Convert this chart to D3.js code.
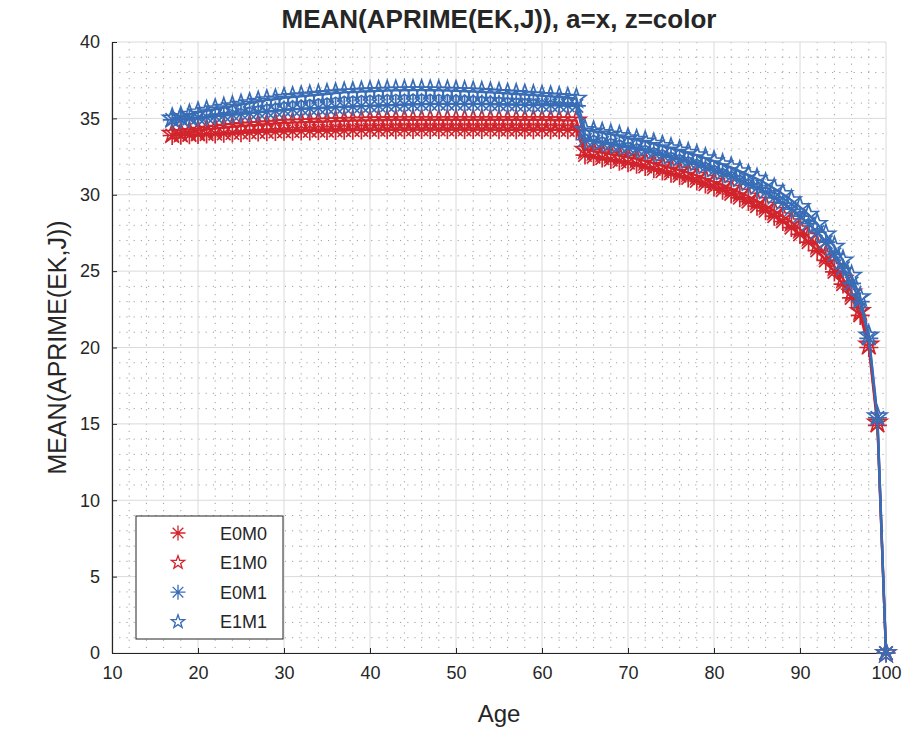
<!DOCTYPE html>
<html>
<head>
<meta charset="utf-8">
<script src="https://cdn.jsdelivr.net/npm/d3@7/dist/d3.min.js"></script>
<style>
  html, body { margin: 0; padding: 0; background: #ffffff; }
  svg { display: block; }
  text { font-family: "Liberation Sans", Arial, Helvetica, sans-serif; fill: #262626; }
</style>
</head>
<body>
<svg id="chart" width="907" height="733"></svg>
<script>
// Ages on the x axis
const ages = [
  17, 18, 19, 20, 21, 22, 23, 24, 25, 26,
  27, 28, 29, 30, 31, 32, 33, 34, 35, 36,
  37, 38, 39, 40, 41, 42, 43, 44, 45, 46,
  47, 48, 49, 50, 51, 52, 53, 54, 55, 56,
  57, 58, 59, 60, 61, 62, 63, 64, 65, 66,
  67, 68, 69, 70, 71, 72, 73, 74, 75, 76,
  77, 78, 79, 80, 81, 82, 83, 84, 85, 86,
  87, 88, 89, 90, 91, 92, 93, 94, 95, 96,
  97, 98, 99, 100
];

// Mean next-period assets by age, one array per education/marital group
const e0m0 = [
  33.88, 33.90, 33.92, 33.95, 33.97, 34.00, 34.02, 34.04, 34.06, 34.08,
  34.10, 34.12, 34.14, 34.15, 34.16, 34.17, 34.18, 34.19, 34.20, 34.21,
  34.22, 34.23, 34.24, 34.25, 34.25, 34.26, 34.26, 34.27, 34.27, 34.27,
  34.27, 34.27, 34.27, 34.27, 34.27, 34.27, 34.27, 34.27, 34.26, 34.26,
  34.26, 34.26, 34.26, 34.26, 34.25, 34.25, 34.25, 34.25, 32.60, 32.50,
  32.40, 32.30, 32.20, 32.10, 32.00, 31.85, 31.70, 31.55, 31.40, 31.25,
  31.10, 30.90, 30.70, 30.50, 30.30, 30.05, 29.80, 29.55, 29.25, 28.95,
  28.60, 28.25, 27.85, 27.40, 26.90, 26.35, 25.70, 24.95, 24.15, 23.25,
  22.10, 20.00, 14.90, 0.00
];
const e1m0 = [
  34.00, 34.05, 34.12, 34.20, 34.27, 34.33, 34.39, 34.44, 34.50, 34.54,
  34.58, 34.62, 34.66, 34.70, 34.72, 34.74, 34.76, 34.78, 34.80, 34.82,
  34.84, 34.85, 34.86, 34.87, 34.88, 34.89, 34.90, 34.90, 34.90, 34.90,
  34.90, 34.90, 34.90, 34.90, 34.90, 34.90, 34.90, 34.90, 34.90, 34.90,
  34.90, 34.90, 34.90, 34.90, 34.89, 34.88, 34.87, 34.86, 32.95, 32.85,
  32.75, 32.65, 32.55, 32.45, 32.35, 32.20, 32.05, 31.90, 31.75, 31.60,
  31.45, 31.25, 31.05, 30.85, 30.65, 30.40, 30.15, 29.90, 29.60, 29.30,
  28.95, 28.60, 28.20, 27.75, 27.25, 26.70, 26.05, 25.30, 24.50, 23.60,
  22.40, 20.20, 15.10, 0.00
];
const e0m1 = [
  34.90, 34.95, 35.00, 35.05, 35.10, 35.15, 35.20, 35.25, 35.30, 35.35,
  35.40, 35.45, 35.50, 35.55, 35.60, 35.62, 35.65, 35.68, 35.70, 35.73,
  35.76, 35.78, 35.80, 35.82, 35.84, 35.86, 35.88, 35.90, 35.92, 35.93,
  35.94, 35.95, 35.95, 35.95, 35.95, 35.95, 35.94, 35.93, 35.92, 35.91,
  35.90, 35.89, 35.88, 35.87, 35.86, 35.85, 35.84, 35.82, 33.60, 33.50,
  33.40, 33.30, 33.20, 33.10, 33.00, 32.90, 32.75, 32.60, 32.45, 32.30,
  32.15, 32.00, 31.80, 31.60, 31.40, 31.20, 30.95, 30.70, 30.45, 30.15,
  29.80, 29.45, 29.05, 28.60, 28.10, 27.55, 26.90, 26.10, 25.20, 24.20,
  23.00, 20.60, 15.40, 0.00
];
const e1m1 = [
  35.00, 35.10, 35.25, 35.40, 35.50, 35.60, 35.70, 35.80, 35.90, 36.00,
  36.10, 36.20, 36.25, 36.35, 36.40, 36.45, 36.50, 36.55, 36.60, 36.65,
  36.70, 36.72, 36.75, 36.78, 36.80, 36.82, 36.83, 36.84, 36.85, 36.85,
  36.84, 36.83, 36.82, 36.80, 36.78, 36.76, 36.73, 36.70, 36.67, 36.63,
  36.60, 36.56, 36.52, 36.48, 36.44, 36.40, 36.35, 36.30, 34.25, 34.15,
  34.05, 33.95, 33.85, 33.70, 33.60, 33.50, 33.35, 33.20, 33.05, 32.90,
  32.75, 32.60, 32.40, 32.20, 32.00, 31.80, 31.55, 31.30, 31.05, 30.75,
  30.40, 30.05, 29.65, 29.20, 28.70, 28.10, 27.40, 26.60, 25.70, 24.70,
  23.30, 20.80, 15.50, 0.00
];

const seriesNames = ["E0M0", "E1M0", "E0M1", "E1M1"];
const seriesValues = [e0m0, e1m0, e0m1, e1m1];
const seriesColors = ["#d1242c", "#d1242c", "#386db6", "#386db6"];
const seriesMarkers = ["asterisk", "pentagram", "asterisk", "pentagram"];

const xTicks = [10, 20, 30, 40, 50, 60, 70, 80, 90, 100];
const yTicks = [0, 5, 10, 15, 20, 25, 30, 35, 40];
const xMinorTicks = d3.range(10, 101, 2);
const yMinorTicks = d3.range(0, 41, 1);

const titleText = "MEAN(APRIME(EK,J)), a=x, z=color";
const xLabelText = "Age";
const yLabelText = "MEAN(APRIME(EK,J))";

// ---- layout ----
const plot = { left: 112, top: 42, right: 886, bottom: 653 };
const svg = d3.select("#chart");

const x = d3.scaleLinear().domain([10, 100]).range([plot.left, plot.right]);
const y = d3.scaleLinear().domain([0, 40]).range([plot.bottom, plot.top]);

// ---- grid ----
const grid = svg.append("g");
grid.selectAll("line.xminor").data(xMinorTicks.filter(d => d % 10 !== 0)).join("line")
  .attr("x1", d => x(d)).attr("x2", d => x(d))
  .attr("y1", plot.top).attr("y2", plot.bottom)
  .attr("stroke", "#a0a0a0").attr("stroke-width", 1)
  .attr("stroke-dasharray", "1.2,6");
grid.selectAll("line.yminor").data(yMinorTicks.filter(d => d % 5 !== 0)).join("line")
  .attr("y1", d => y(d)).attr("y2", d => y(d))
  .attr("x1", plot.left).attr("x2", plot.right)
  .attr("stroke", "#a0a0a0").attr("stroke-width", 1)
  .attr("stroke-dasharray", "1.2,6");
grid.selectAll("line.xmajor").data(xTicks).join("line")
  .attr("x1", d => x(d)).attr("x2", d => x(d))
  .attr("y1", plot.top).attr("y2", plot.bottom)
  .attr("stroke", "#dadada").attr("stroke-width", 1);
grid.selectAll("line.ymajor").data(yTicks).join("line")
  .attr("y1", d => y(d)).attr("y2", d => y(d))
  .attr("x1", plot.left).attr("x2", plot.right)
  .attr("stroke", "#dadada").attr("stroke-width", 1);

// ---- axes ----
const xAxis = d3.axisBottom(x).tickValues(xTicks).tickSizeInner(-5).tickSizeOuter(0).tickPadding(13);
const yAxis = d3.axisLeft(y).tickValues(yTicks).tickSizeInner(-5).tickSizeOuter(0).tickPadding(12);

const gx = svg.append("g").attr("transform", `translate(0,${plot.bottom})`).call(xAxis);
const gy = svg.append("g").attr("transform", `translate(${plot.left},0)`).call(yAxis);
[gx, gy].forEach(g => {
  g.select(".domain").attr("stroke", "#262626").attr("stroke-width", 1.2);
  g.selectAll(".tick line").attr("stroke", "#262626").attr("stroke-width", 1);
  g.selectAll(".tick text").attr("font-size", 18).attr("fill", "#262626")
    .attr("font-family", "'Liberation Sans', Arial, sans-serif");
});

// ---- marker shapes ----
function asteriskPath(r) {
  const parts = [];
  for (let k = 0; k < 4; k++) {
    const a = k * Math.PI / 4;
    const dx = r * Math.cos(a), dy = r * Math.sin(a);
    parts.push(`M${-dx},${-dy}L${dx},${dy}`);
  }
  return parts.join("");
}
function pentagramPath(r) {
  const inner = r * 0.4;
  const pts = [];
  for (let k = 0; k < 10; k++) {
    const a = -Math.PI / 2 + k * Math.PI / 5;
    const rr = k % 2 === 0 ? r : inner;
    pts.push([rr * Math.cos(a), rr * Math.sin(a)]);
  }
  return "M" + pts.map(p => p[0].toFixed(2) + "," + p[1].toFixed(2)).join("L") + "Z";
}
const markerPath = {
  asterisk: asteriskPath(9.5),
  pentagram: pentagramPath(10)
};

// ---- series ----
const line = d3.line().x(d => x(d[0])).y(d => y(d[1]));
const layer = svg.append("g");
seriesValues.forEach((vals, i) => {
  const pts = ages.map((a, j) => [a, vals[j]]);
  const g = layer.append("g");
  g.append("path").attr("d", line(pts))
    .attr("fill", "none").attr("stroke", seriesColors[i]).attr("stroke-width", 2.4);
  g.selectAll("path.m").data(pts).join("path")
    .attr("transform", d => `translate(${x(d[0])},${y(d[1])})`)
    .attr("d", markerPath[seriesMarkers[i]])
    .attr("fill", "none").attr("stroke", seriesColors[i]).attr("stroke-width", 1.7);
});

// ---- legend ----
const legend = svg.append("g");
legend.append("rect").attr("x", 136).attr("y", 516).attr("width", 147).attr("height", 123)
  .attr("fill", "#ffffff").attr("stroke", "#262626").attr("stroke-width", 1);
const legendMarker = { asterisk: asteriskPath(7.5), pentagram: pentagramPath(7) };
seriesNames.forEach((name, i) => {
  const cy = 533 + i * 29.6;
  legend.append("path").attr("transform", `translate(178,${cy})`)
    .attr("d", legendMarker[seriesMarkers[i]])
    .attr("fill", "none").attr("stroke", seriesColors[i]).attr("stroke-width", 1.3);
  legend.append("text").attr("x", 220).attr("y", cy + 6.5).attr("font-size", 18).text(name);
});

// ---- titles ----
svg.append("text").attr("x", (plot.left + plot.right) / 2).attr("y", 28)
  .attr("text-anchor", "middle").attr("font-size", 26).attr("font-weight", "bold")
  .attr("fill", "#000000").text(titleText);
svg.append("text").attr("x", (plot.left + plot.right) / 2).attr("y", 722)
  .attr("text-anchor", "middle").attr("font-size", 24).text(xLabelText);
svg.append("text")
  .attr("transform", `translate(66,${(plot.top + plot.bottom) / 2}) rotate(-90)`)
  .attr("text-anchor", "middle").attr("font-size", 25).text(yLabelText);
</script>
</body>
</html>
